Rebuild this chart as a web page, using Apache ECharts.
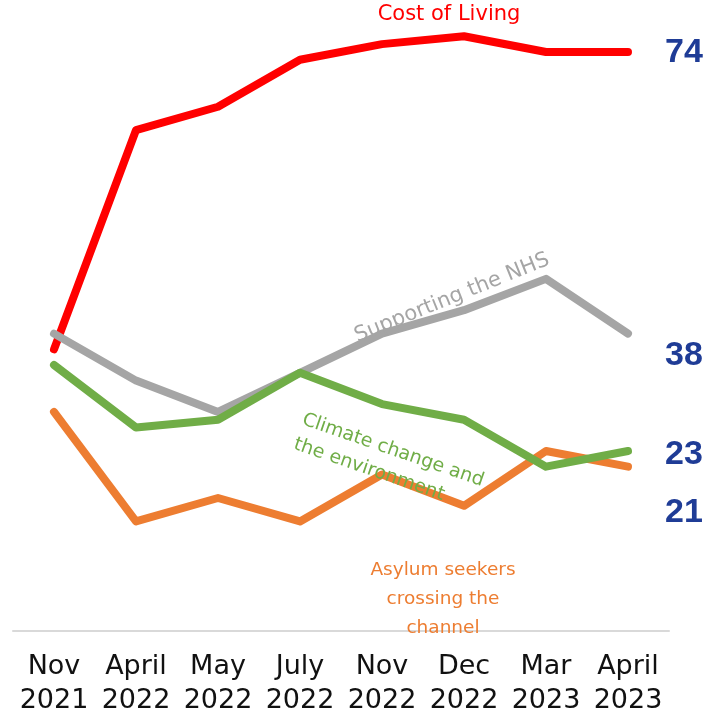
<!DOCTYPE html>
<html>
<head>
<meta charset="utf-8">
<script src="https://cdn.jsdelivr.net/npm/echarts@6/dist/echarts.min.js"></script>
<style>
  html, body { margin: 0; padding: 0; background: #fff; }
  #chart { width: 718px; height: 715px; }
</style>
</head>
<body>
<div id="chart"></div>
<script>
const months = ["Nov\n2021", "April\n2022", "May\n2022", "July\n2022", "Nov\n2022", "Dec\n2022", "Mar\n2023", "April\n2023"];

const costOfLiving = [36, 64, 67, 73, 75, 76, 74, 74];
const supportingNhs = [38, 32, 28, 33, 38, 41, 45, 38];
const climateChange = [34, 26, 27, 33, 29, 27, 21, 23];
const asylumSeekers = [28, 14, 17, 14, 20, 16, 23, 21];

const chart = echarts.init(document.getElementById("chart"));

// end label offsets, the numbers are nudged apart
const makeLine = (name, data, color, endOffsetY) => ({
  name: name,
  type: "line",
  data: data,
  symbol: "none",
  lineStyle: { color: color, width: 8, cap: "round", join: "round" },
  endLabel: {
    show: true,
    formatter: (p) => String(p.value),
    color: "#1F3C96",
    fontFamily: "Liberation Sans Narrow, Liberation Sans, sans-serif",
    fontWeight: "bold",
    fontSize: 34,
    distance: 37,
    offset: [0, endOffsetY],
  },
});

chart.setOption({
  backgroundColor: "#ffffff",
  animation: false,
  grid: { left: 13, right: 49, top: 5, bottom: 84, outerBoundsMode: "none" },
  xAxis: {
    type: "category",
    data: months,
    boundaryGap: true,
    axisLine: { lineStyle: { color: "#D9D9D9", width: 2 } },
    axisTick: { show: false },
    axisLabel: {
      color: "#111",
      fontFamily: "DejaVu Sans, sans-serif",
      fontSize: 27,
      lineHeight: 34,
      margin: 19,
      interval: 0,
    },
  },
  yAxis: {
    type: "value",
    min: 0,
    max: 80,
    show: false,
    splitLine: { show: false },
  },
  series: [
    makeLine("Cost of Living", costOfLiving, "#FF0000", 1),
    makeLine("Supporting the NHS", supportingNhs, "#A5A5A5", 22),
    makeLine("Asylum seekers crossing the channel", asylumSeekers, "#ED7D31", 46),
    makeLine("Climate change and the environment", climateChange, "#70AD47", 4),
  ],
  graphic: [
    {
      type: "text",
      z: 100,
      x: 449, y: 15,
      style: { text: "Cost of Living", fill: "#FF0000", fontSize: 21, fontFamily: "DejaVu Sans, sans-serif", align: "center", verticalAlign: "middle" },
    },
    {
      type: "text",
      z: 100,
      x: 452, y: 298, rotation: 22 * Math.PI / 180,
      style: { text: "Supporting the NHS", fill: "#A5A5A5", fontSize: 21, fontFamily: "DejaVu Sans, sans-serif", align: "center", verticalAlign: "middle" },
    },
    {
      type: "text",
      z: 100,
      x: 307, y: 407, rotation: -19 * Math.PI / 180,
      style: { text: "Climate change and\nthe environment", fill: "#70AD47", fontSize: 19, lineHeight: 26, fontFamily: "DejaVu Sans, sans-serif", align: "left", verticalAlign: "top" },
    },
    {
      type: "text",
      z: 100,
      x: 443, y: 599,
      style: { text: "Asylum seekers\ncrossing the\nchannel", fill: "#ED7D31", fontSize: 18.5, lineHeight: 29, fontFamily: "DejaVu Sans, sans-serif", align: "center", verticalAlign: "middle" },
    },
  ],
});
</script>
</body>
</html>
